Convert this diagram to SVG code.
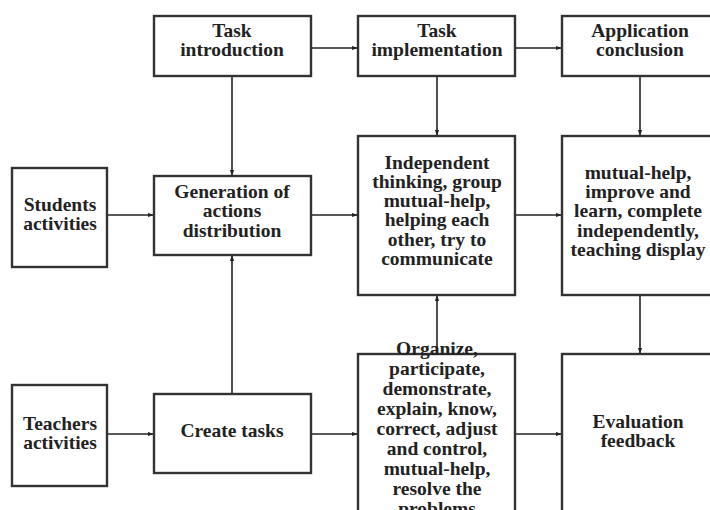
<svg xmlns="http://www.w3.org/2000/svg" width="710" height="510" viewBox="0 0 710 510">
<style>
.box{fill:#fff;stroke:#333;stroke-width:2.4}
.t{font-family:"Liberation Serif","Times New Roman",serif;font-weight:bold;font-size:19.5px;fill:#222;text-anchor:middle}
.c{stroke:#222;stroke-width:1.6;fill:none;marker-end:url(#ah)}
</style>
<defs>
<marker id="ah" viewBox="0 0 10 10" refX="10" refY="5" markerWidth="6" markerHeight="6" orient="auto" markerUnits="userSpaceOnUse">
<path d="M0,1.5 L10,5 L0,8.5 z" fill="#222"/>
</marker>
</defs>
<rect width="710" height="510" fill="#fff"/>
<g id="connectors">
<path class="c" d="M311,48 H358"/>
<path class="c" d="M515,48 H562"/>
<path class="c" d="M232,76 V176"/>
<path class="c" d="M437,76 V136"/>
<path class="c" d="M640,76 V136"/>
<path class="c" d="M107,215 H154"/>
<path class="c" d="M311,215 H358"/>
<path class="c" d="M515,215 H562"/>
<path class="c" d="M232,394 V255"/>
<path class="c" d="M437,354 V295"/>
<path class="c" d="M640,295 V354"/>
<path class="c" d="M107,434 H154"/>
<path class="c" d="M311,434 H358"/>
<path class="c" d="M515,434 H562"/>
</g>
<g id="task-introduction">
<rect class="box" x="154" y="16" width="157" height="60"/>
<text class="t" x="232" y="37">Task</text>
<text class="t" x="232" y="56">introduction</text>
</g>
<g id="task-implementation">
<rect class="box" x="358" y="16" width="157" height="60"/>
<text class="t" x="437" y="37">Task</text>
<text class="t" x="437" y="56">implementation</text>
</g>
<g id="application-conclusion">
<rect class="box" x="562" y="16" width="156" height="60"/>
<text class="t" x="640" y="37">Application</text>
<text class="t" x="640" y="56">conclusion</text>
</g>
<g id="students-activities">
<rect class="box" x="12" y="168" width="95" height="99"/>
<text class="t" x="60" y="211">Students</text>
<text class="t" x="60" y="230">activities</text>
</g>
<g id="generation">
<rect class="box" x="154" y="176" width="157" height="79"/>
<text class="t" x="232" y="198">Generation of</text>
<text class="t" x="232" y="217">actions</text>
<text class="t" x="232" y="237">distribution</text>
</g>
<g id="independent">
<rect class="box" x="358" y="136" width="157" height="159"/>
<text class="t" x="437" y="169">Independent</text>
<text class="t" x="437" y="188">thinking, group</text>
<text class="t" x="437" y="207">mutual-help,</text>
<text class="t" x="437" y="226">helping each</text>
<text class="t" x="437" y="246">other, try to</text>
<text class="t" x="437" y="265">communicate</text>
</g>
<g id="mutual-help">
<rect class="box" x="562" y="136" width="156" height="159"/>
<text class="t" x="638" y="179">mutual-help,</text>
<text class="t" x="638" y="198">improve and</text>
<text class="t" x="638" y="217">learn, complete</text>
<text class="t" x="638" y="237">independently,</text>
<text class="t" x="638" y="256">teaching display</text>
</g>
<g id="teachers-activities">
<rect class="box" x="12" y="385" width="95" height="101"/>
<text class="t" x="60" y="430">Teachers</text>
<text class="t" x="60" y="449">activities</text>
</g>
<g id="create-tasks">
<rect class="box" x="154" y="394" width="157" height="79"/>
<text class="t" x="232" y="437">Create tasks</text>
</g>
<g id="organize">
<rect class="box" x="358" y="354" width="157" height="170"/>
<text class="t" x="437" y="355">Organize,</text>
<text class="t" x="437" y="375">participate,</text>
<text class="t" x="437" y="395">demonstrate,</text>
<text class="t" x="437" y="415">explain, know,</text>
<text class="t" x="437" y="435">correct, adjust</text>
<text class="t" x="437" y="455">and control,</text>
<text class="t" x="437" y="475">mutual-help,</text>
<text class="t" x="437" y="495">resolve the</text>
<text class="t" x="437" y="515">problems</text>
</g>
<g id="evaluation-feedback">
<rect class="box" x="562" y="354" width="156" height="170"/>
<text class="t" x="638" y="428">Evaluation</text>
<text class="t" x="638" y="447">feedback</text>
</g>
</svg>
